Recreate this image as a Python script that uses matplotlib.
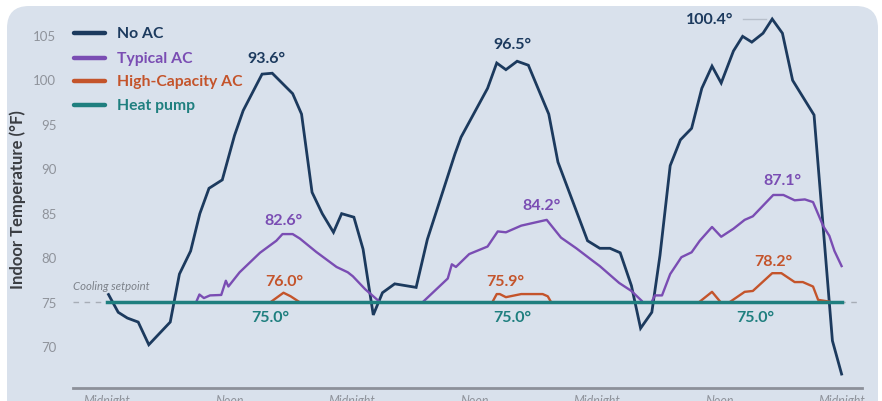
import matplotlib
matplotlib.use("Agg")
import matplotlib.pyplot as plt
import numpy as np
from matplotlib.patches import FancyBboxPatch
from matplotlib.lines import Line2D

plt.rcParams['font.family'] = ['Lato', 'DejaVu Sans']

nan = float("nan")

# ---------------- data ----------------
no_ac_hours = [0.15, 1.1, 2.0, 3.06, 4.1, 6.2, 7.1, 8.2, 9.1, 10.0, 11.3, 12.5, 13.35, 15.2, 16.2,
               18.2, 19.07, 20.1, 21.1, 22.2, 23.0, 24.2, 25.1, 26.1, 27.0, 28.2, 30.3, 31.4,
               34.1, 34.7, 37.3, 38.2, 39.1, 40.2, 41.3, 43.3, 44.2, 47.1, 48.3, 49.3, 50.3, 51.4,
               52.3, 53.4, 54.2, 55.2, 56.2, 57.3, 58.3, 59.3, 60.2, 61.4, 62.3, 63.2, 64.3,
               65.2, 66.2, 67.2, 69.3, 71.1, 72.0]
no_ac_temp = [75.8, 73.8, 73.15, 72.7, 70.15, 72.7, 78.1, 80.7, 84.9, 87.75, 88.7, 93.7, 96.5, 100.6,
              100.7, 98.4, 96.1, 87.3, 84.9, 82.8, 84.9, 84.5, 80.9, 73.5, 76.0, 77.0, 76.6, 82.0,
              91.6, 93.5, 99.0, 101.85, 101.1, 102.05, 101.6, 96.1, 90.7, 81.85, 81.0, 81.0, 80.5,
              76.8, 72.0, 73.8, 80.2, 90.3, 93.2, 94.5, 99.0, 101.5, 99.6, 103.2, 104.85, 104.2,
              105.2, 106.8, 105.2, 99.9, 96.0, 70.6, 66.85]

typ_hours = [8.8, 9.06, 9.5, 10.1, 11.2, 11.65, 11.9, 13.0, 15.0, 16.6, 17.2, 18.2, 18.9, 20.5,
             22.5, 23.6, 24.1, 25.3, 26.7, 28.8, 31.0, 33.4, 33.8, 34.2, 35.5, 37.3, 38.3, 39.1, 40.6,
             43.1, 44.5, 46.0, 47.6, 48.3, 50.2, 51.4, 52.4, 53.0, 53.4, 53.7, 54.4, 55.2, 56.3, 57.3,
             58.1, 59.3, 60.2, 61.4, 62.5, 63.3, 65.3, 66.3, 67.4, 68.4, 69.2, 70.2, 70.8, 71.3, 72.0]
typ_temp = [75.1, 75.8, 75.4, 75.7, 75.75, 77.35, 76.7, 78.3, 80.5, 81.85, 82.6, 82.6, 82.1, 80.6,
            78.9, 78.3, 77.85, 76.4, 75.0, nan, 75.0, 77.6, 79.2, 78.9, 80.35, 81.2, 82.9, 82.8, 83.55,
            84.2, 82.2, 81.0, 79.6, 79.0, 77.1, 76.2, 75.1, nan, 75.0, 75.7, 75.7, 78.1, 80.0, 80.55,
            81.85, 83.4, 82.3, 83.2, 84.2, 84.6, 87.0, 87.0, 86.4, 86.5, 86.2, 83.5, 82.4, 80.7, 79.0]

hc_hours = [16.1, 17.3, 18.0, 18.8, 28.0, 37.8, 38.2, 38.5, 39.1, 40.6, 42.7, 43.2, 43.5, 50.0,
            58.1, 59.3, 60.1, 60.6, 61.1, 62.5, 63.3, 65.2, 66.1, 67.4, 68.2, 69.2, 69.7, 70.8]
hc_temp = [75.0, 76.0, 75.6, 75.0, nan, 75.0, 75.85, 75.85, 75.5, 75.85, 75.85, 75.6, 75.0, nan,
           75.0, 76.1, 75.0, nan, 75.0, 76.1, 76.2, 78.2, 78.2, 77.2, 77.2, 76.7, 75.2, 75.0]

hp_hours = [0.0, 72.0]
hp_temp = [75.0, 75.0]

setpoint = 75.0
peak_no_ac = ["93.6°", "96.5°", "100.4°"]
peak_typ = ["82.6°", "84.2°", "87.1°"]
peak_hc = ["76.0°", "75.9°", "78.2°"]
peak_hp = ["75.0°", "75.0°", "75.0°"]

series_names = ["No AC", "Typical AC", "High-Capacity AC", "Heat pump"]
tick_hours = [0, 12, 24, 36, 48, 60, 72]
tick_names = ["Midnight", "Noon", "Midnight", "Noon", "Midnight", "Noon", "Midnight"]
y_ticks = [70, 75, 80, 85, 90, 95, 100, 105]

# ---------------- style ----------------
C_NAVY = "#1c3a5e"
C_PURPLE = "#7a4db3"
C_ORANGE = "#c4542b"
C_TEAL = "#1f7f7f"
BG = "#d9e1ec"

W, H = 882, 402
fig = plt.figure(figsize=(W / 100, H / 100), dpi=100)
fig.patch.set_facecolor("white")

panel = FancyBboxPatch((7 / W, -0.2), (878 - 7) / W, (H - 7) / H + 0.2,
                       boxstyle="round,pad=0,rounding_size=0.025",
                       transform=fig.transFigure, facecolor=BG, edgecolor="none",
                       mutation_aspect=W / H, zorder=-10)
fig.patches.append(panel)

def px_to_fig(x, y):
    return x / W, (H - y) / H

ax_left, ax_right = 73, 862
ax_top, ax_bot = 13.8, 389
ax = fig.add_axes([ax_left / W, (H - ax_bot) / H, (ax_right - ax_left) / W, (ax_bot - ax_top) / H])
ax.set_zorder(5)
ax.set_facecolor("none")
ax.set_xlim(-3.33, 74.0)
ax.set_ylim(65.28, 107.5)

for s in ["top", "right", "left"]:
    ax.spines[s].set_visible(False)
ax.spines["bottom"].set_color("#8c9099")
ax.spines["bottom"].set_linewidth(2.0)

ax.set_yticks(y_ticks)
ax.set_yticklabels([str(v) for v in y_ticks])
ax.tick_params(axis="y", length=0, pad=12, labelsize=9.5, labelcolor="#8f939b")
ax.set_xticks(tick_hours)
ax.set_xticklabels(tick_names, style="italic")
ax.tick_params(axis="x", length=0, pad=4.5, labelsize=9, labelcolor="#8f939b")

# setpoint dashed line
ax.axhline(setpoint, color="#a7adb6", lw=1.0, ls=(0, (4, 4)), zorder=1)
ax.text(-3.33, 76.8, "Cooling setpoint", style="italic", fontsize=8.2, color="#7d828a",
        ha="left", va="center")

ax.plot(no_ac_hours, no_ac_temp, color=C_NAVY, lw=2.0, solid_joinstyle="miter", zorder=3)
ax.plot(typ_hours, typ_temp, color=C_PURPLE, lw=1.7, zorder=4)
ax.plot(hc_hours, hc_temp, color=C_ORANGE, lw=1.7, zorder=5)
ax.plot(hp_hours, hp_temp, color=C_TEAL, lw=2.5, zorder=6)

# annotations (layout positions)
fs = 11.5
lab_x_no = [15.6, 39.7, 59.1]
lab_y_no = [102.4, 104.0, 106.8]
for x, y, t in zip(lab_x_no, lab_y_no, peak_no_ac):
    ax.text(x, y, t, color=C_NAVY, fontsize=fs, fontweight="bold", ha="center", va="center")
ax.plot([62.3, 64.6], [106.8, 106.8], color="#b7bfca", lw=1.0, zorder=2)

lab_x_typ = [17.25, 42.6, 66.2]
lab_y_typ = [84.2, 85.9, 88.7]
for x, y, t in zip(lab_x_typ, lab_y_typ, peak_typ):
    ax.text(x, y, t, color=C_PURPLE, fontsize=fs, fontweight="bold", ha="center", va="center")

lab_x_hc = [17.4, 39.0, 65.3]
lab_y_hc = [77.3, 77.3, 79.55]
for x, y, t in zip(lab_x_hc, lab_y_hc, peak_hc):
    ax.text(x, y, t, color=C_ORANGE, fontsize=fs, fontweight="bold", ha="center", va="center")

lab_x_hp = [16.0, 39.7, 63.5]
for x, t in zip(lab_x_hp, peak_hp):
    ax.text(x, 73.25, t, color=C_TEAL, fontsize=fs, fontweight="bold", ha="center", va="center")

# y label
fig.text(18 / W, (H - 200) / H, "Indoor Temperature (°F)", rotation=90, ha="center", va="center",
         fontsize=12, fontweight="bold", color="#3a3d42")

# legend (manual)
leg_colors = [C_NAVY, C_PURPLE, C_ORANGE, C_TEAL]
leg_y = [34, 59, 82, 106]
for name, c, y in zip(series_names, leg_colors, leg_y):
    x0, yf = px_to_fig(74, y)
    x1, _ = px_to_fig(105, y)
    fig.add_artist(Line2D([x0, x1], [yf, yf], color=c, lw=3.2, solid_capstyle="round",
                          transform=fig.transFigure))
    tx, _ = px_to_fig(117, y)
    fig.text(tx, yf, name, color=c, fontsize=11.3, fontweight="bold", ha="left", va="center")

fig.savefig("out.png", dpi=100, facecolor="white")
